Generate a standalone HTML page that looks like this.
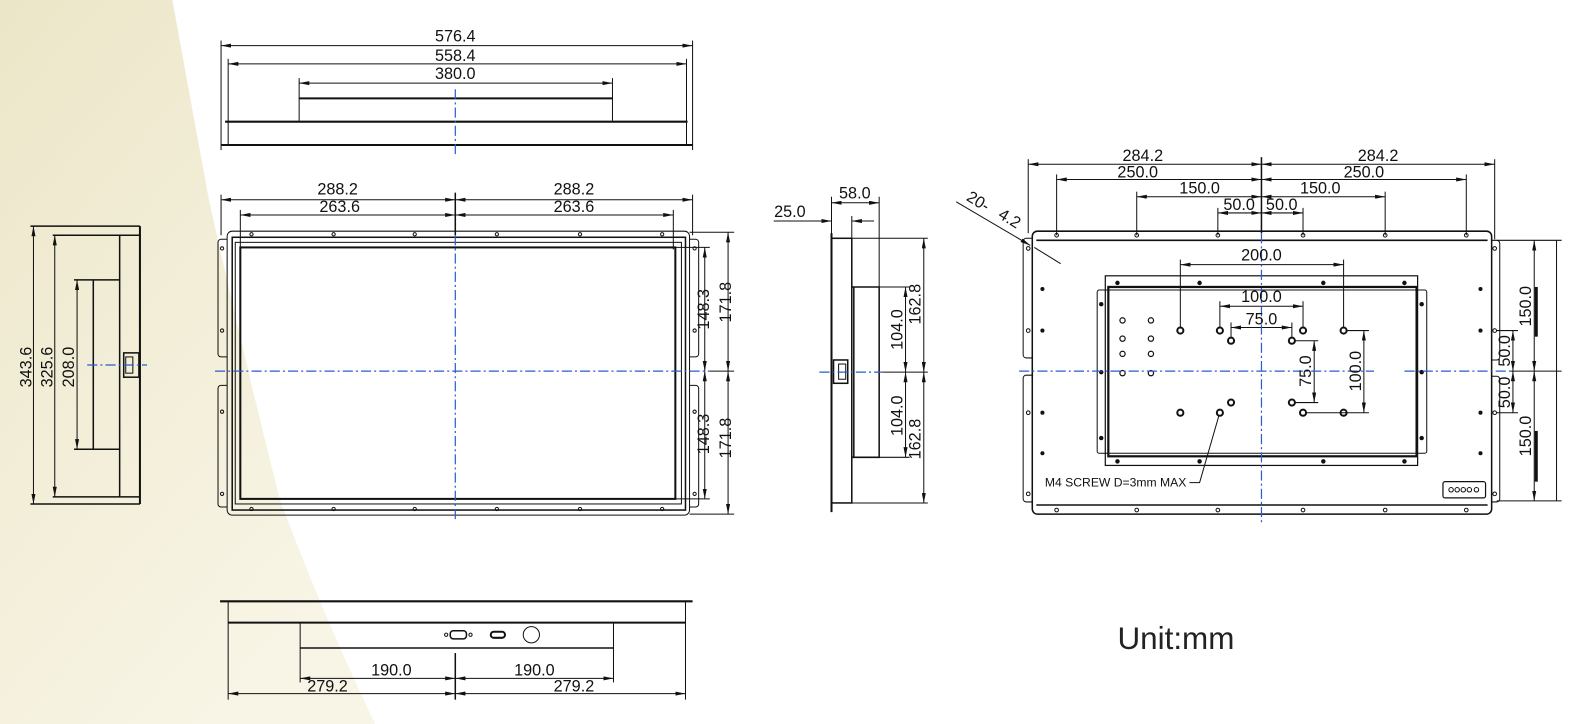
<!DOCTYPE html>
<html><head><meta charset="utf-8"><style>
html,body{margin:0;padding:0;background:#fff;width:1590px;height:724px;overflow:hidden}
svg{display:block}
text{font-family:"Liberation Sans",sans-serif;font-size:16px;fill:#111}
</style></head><body>
<svg width="1590" height="724" viewBox="0 0 1568 714" preserveAspectRatio="none" xmlns="http://www.w3.org/2000/svg">
<defs>
<linearGradient id="bg" x1="0" y1="0" x2="0.6" y2="1">
<stop offset="0" stop-color="#ece6c8"/><stop offset="1" stop-color="#f8f5e6"/></linearGradient>
<marker id="a" viewBox="0 0 10 4" refX="10" refY="2" markerWidth="10" markerHeight="4" orient="auto-start-reverse" markerUnits="userSpaceOnUse"><path d="M0,0L10,2L0,4z" fill="#111"/></marker>
</defs>
<path d="M0,0 L170,0 Q190,110 206,197 Q240,350 276,493 Q320,610 370,714 L0,714z" fill="url(#bg)"/>

<g stroke="#111" fill="none" stroke-width="1">
<!-- TOP VIEW -->
<line x1="218" y1="40" x2="218" y2="148"/><line x1="683" y1="40" x2="683" y2="148"/>
<line x1="225" y1="58" x2="225" y2="143"/><line x1="677" y1="58" x2="677" y2="143"/>
<line x1="295" y1="77" x2="295" y2="119"/><line x1="604" y1="77" x2="604" y2="119"/>
<line x1="218" y1="45" x2="683" y2="45" marker-start="url(#a)" marker-end="url(#a)"/>
<line x1="225" y1="63" x2="677" y2="63" marker-start="url(#a)" marker-end="url(#a)"/>
<line x1="295" y1="82" x2="604" y2="82" marker-start="url(#a)" marker-end="url(#a)"/>
<line x1="295" y1="97" x2="604" y2="97" stroke-width="2"/>
<line x1="222" y1="120" x2="678" y2="120" stroke-width="2"/>
<line x1="218" y1="143" x2="683" y2="143" stroke-width="2"/>

<!-- FRONT VIEW -->
<line x1="218" y1="192" x2="218" y2="232"/><line x1="683" y1="192" x2="683" y2="232"/>
<line x1="237" y1="207" x2="237" y2="246"/><line x1="664" y1="207" x2="664" y2="246"/>
<line x1="449" y1="190" x2="449" y2="232" stroke-width="1.5"/>
<line x1="218" y1="197" x2="449" y2="197" marker-start="url(#a)" marker-end="url(#a)"/>
<line x1="449" y1="197" x2="683" y2="197" marker-start="url(#a)" marker-end="url(#a)"/>
<line x1="237" y1="212" x2="449" y2="212" marker-start="url(#a)" marker-end="url(#a)"/>
<line x1="449" y1="212" x2="664" y2="212" marker-start="url(#a)" marker-end="url(#a)"/>
<rect x="224" y="228" width="456" height="280" rx="5"/>
<path d="M224,236 h-6 a3,3 0 0 0 -3,3 v110 a3,3 0 0 0 3,3 h6"/>
<path d="M224,380 h-6 a3,3 0 0 0 -3,3 v114 a3,3 0 0 0 3,3 h6"/>
<path d="M680,236 h6 a3,3 0 0 1 3,3 v110 a3,3 0 0 1 -3,3 h-6"/>
<path d="M680,380 h6 a3,3 0 0 1 3,3 v114 a3,3 0 0 1 -3,3 h-6"/>
<rect x="229" y="234" width="447" height="269" stroke-width="1.5"/>
<rect x="232" y="239" width="440" height="258"/>
<rect x="237" y="244" width="429" height="248" stroke-width="2"/>
<g stroke-width="1">
<circle cx="248" cy="231" r="1.6"/><circle cx="329" cy="231" r="1.6"/><circle cx="409" cy="231" r="1.6"/><circle cx="490" cy="231" r="1.6"/><circle cx="572" cy="231" r="1.6"/><circle cx="653" cy="231" r="1.6"/>
<circle cx="248" cy="502" r="1.6"/><circle cx="329" cy="502" r="1.6"/><circle cx="409" cy="502" r="1.6"/><circle cx="490" cy="502" r="1.6"/><circle cx="572" cy="502" r="1.6"/><circle cx="653" cy="502" r="1.6"/>
<circle cx="219" cy="245" r="1.6"/><circle cx="219" cy="326" r="1.6"/><circle cx="219" cy="406" r="1.6"/><circle cx="219" cy="487" r="1.6"/>
<circle cx="685" cy="245" r="1.6"/><circle cx="685" cy="326" r="1.6"/><circle cx="685" cy="406" r="1.6"/><circle cx="685" cy="487" r="1.6"/>
</g>
<line x1="666" y1="244" x2="700" y2="244"/><line x1="680" y1="229" x2="724" y2="229"/>
<line x1="666" y1="492" x2="700" y2="492"/><line x1="680" y1="507" x2="724" y2="507"/>
<line x1="700" y1="366" x2="724" y2="366"/>
<line x1="695" y1="244" x2="695" y2="366" marker-start="url(#a)" marker-end="url(#a)"/>
<line x1="695" y1="366" x2="695" y2="492" marker-start="url(#a)" marker-end="url(#a)"/>
<line x1="718" y1="229" x2="718" y2="366" marker-start="url(#a)" marker-end="url(#a)"/>
<line x1="718" y1="366" x2="718" y2="507" marker-start="url(#a)" marker-end="url(#a)"/>

<!-- LEFT SIDE VIEW -->
<line x1="30" y1="223" x2="138" y2="223" stroke-width="1.5"/>
<line x1="30" y1="497" x2="138" y2="497" stroke-width="1.5"/>
<line x1="33" y1="223" x2="33" y2="497" marker-start="url(#a)" marker-end="url(#a)"/>
<line x1="52" y1="232" x2="138" y2="232" stroke-width="1.5"/>
<line x1="52" y1="490" x2="138" y2="490" stroke-width="1.5"/>
<line x1="54" y1="232" x2="54" y2="490" marker-start="url(#a)" marker-end="url(#a)"/>
<line x1="73" y1="276" x2="118" y2="276" stroke-width="1.5"/>
<line x1="73" y1="443" x2="118" y2="443" stroke-width="1.5"/>
<line x1="76" y1="276" x2="76" y2="443" marker-start="url(#a)" marker-end="url(#a)"/>
<line x1="92" y1="276" x2="92" y2="443" stroke-width="1.5"/>
<line x1="118" y1="232" x2="118" y2="490" stroke-width="1.5"/>
<line x1="138" y1="223" x2="138" y2="497" stroke-width="2"/>
<rect x="122" y="348" width="15" height="24" stroke-width="1.5"/>
<rect x="124" y="352" width="7" height="16"/>

<!-- SIDE VIEW -->
<line x1="820" y1="194" x2="820" y2="235"/><line x1="867" y1="194" x2="867" y2="283"/>
<line x1="840" y1="213" x2="840" y2="235"/>
<line x1="820" y1="200" x2="867" y2="200" marker-start="url(#a)" marker-end="url(#a)"/>
<line x1="763" y1="218" x2="820" y2="218" marker-end="url(#a)"/>
<line x1="862" y1="218" x2="840" y2="218" marker-end="url(#a)"/>
<line x1="820" y1="230" x2="820" y2="505" stroke-width="2"/>
<rect x="820" y="235" width="20" height="261" stroke-width="1.5"/>
<path d="M840,283 H867 V451 H840" stroke-width="1.5"/>
<line x1="842" y1="283" x2="842" y2="451" stroke-width="1.5"/>
<rect x="822" y="355" width="14" height="23" stroke-width="1.5"/>
<rect x="827" y="359" width="7" height="15"/>
<line x1="840" y1="235" x2="915" y2="235"/><line x1="840" y1="496" x2="915" y2="496"/>
<line x1="867" y1="283" x2="897" y2="283"/><line x1="867" y1="451" x2="897" y2="451"/>
<line x1="870" y1="367" x2="915" y2="367"/>
<line x1="893" y1="283" x2="893" y2="367" marker-start="url(#a)" marker-end="url(#a)"/>
<line x1="893" y1="367" x2="893" y2="451" marker-start="url(#a)" marker-end="url(#a)"/>
<line x1="911" y1="235" x2="911" y2="367" marker-start="url(#a)" marker-end="url(#a)"/>
<line x1="911" y1="367" x2="911" y2="496" marker-start="url(#a)" marker-end="url(#a)"/>

<!-- BOTTOM VIEW -->
<line x1="217" y1="593" x2="683" y2="593" stroke-width="2"/>
<line x1="225" y1="593" x2="225" y2="690"/><line x1="676" y1="593" x2="676" y2="690"/>
<line x1="225" y1="614" x2="676" y2="614" stroke-width="2"/>
<line x1="296" y1="614" x2="296" y2="673"/><line x1="605" y1="614" x2="605" y2="673"/>
<line x1="296" y1="639" x2="605" y2="639" stroke-width="1.5"/>
<line x1="449" y1="644" x2="449" y2="690" stroke-width="1.5"/>
<line x1="296" y1="669" x2="449" y2="669" marker-start="url(#a)" marker-end="url(#a)"/>
<line x1="449" y1="669" x2="605" y2="669" marker-start="url(#a)" marker-end="url(#a)"/>
<line x1="225" y1="684" x2="449" y2="684" marker-start="url(#a)" marker-end="url(#a)"/>
<line x1="449" y1="684" x2="676" y2="684" marker-start="url(#a)" marker-end="url(#a)"/>
<rect x="444" y="622" width="16" height="8" rx="3" stroke-width="1.5"/>
<circle cx="440" cy="626" r="1.6"/><circle cx="464" cy="626" r="1.6"/>
<rect x="484" y="623" width="14" height="6" rx="3" stroke-width="2"/>
<circle cx="524" cy="626" r="8"/>

<!-- REAR VIEW -->
<line x1="1014" y1="157" x2="1014" y2="230"/><line x1="1474" y1="157" x2="1474" y2="236"/>
<line x1="1042" y1="172" x2="1042" y2="232"/><line x1="1446" y1="172" x2="1446" y2="232"/>
<line x1="1121" y1="189" x2="1121" y2="232"/><line x1="1366" y1="189" x2="1366" y2="232"/>
<line x1="1201" y1="205" x2="1201" y2="232"/><line x1="1285" y1="205" x2="1285" y2="232"/>
<line x1="1244" y1="155" x2="1244" y2="230" stroke-width="1.5"/>
<line x1="1014" y1="162" x2="1244" y2="162" marker-start="url(#a)" marker-end="url(#a)"/>
<line x1="1244" y1="162" x2="1474" y2="162" marker-start="url(#a)" marker-end="url(#a)"/>
<line x1="1042" y1="177" x2="1244" y2="177" marker-start="url(#a)" marker-end="url(#a)"/>
<line x1="1244" y1="177" x2="1446" y2="177" marker-start="url(#a)" marker-end="url(#a)"/>
<line x1="1121" y1="194" x2="1244" y2="194" marker-start="url(#a)" marker-end="url(#a)"/>
<line x1="1244" y1="194" x2="1366" y2="194" marker-start="url(#a)" marker-end="url(#a)"/>
<line x1="1201" y1="210" x2="1244" y2="210" marker-start="url(#a)" marker-end="url(#a)"/>
<line x1="1244" y1="210" x2="1285" y2="210" marker-start="url(#a)" marker-end="url(#a)"/>
<line x1="943" y1="199" x2="1016" y2="242" marker-end="url(#a)"/>
<line x1="1020" y1="244" x2="1046" y2="260"/>
<rect x="1018" y="228" width="453" height="279" rx="5" stroke-width="1.5"/>
<line x1="1022" y1="237" x2="1467" y2="237" stroke-width="1.5"/>
<line x1="1022" y1="498" x2="1467" y2="498" stroke-width="1.5"/>
<path d="M1018,235 h-6 a3,3 0 0 0 -3,3 v112 a3,3 0 0 0 3,3 h6"/>
<path d="M1018,370 h-6 a3,3 0 0 0 -3,3 v119 a3,3 0 0 0 3,3 h6"/>
<path d="M1471,237 h5 a3,3 0 0 1 3,3 v112 a3,3 0 0 1 -3,3 h-5"/>
<path d="M1471,371 h5 a3,3 0 0 1 3,3 v118 a3,3 0 0 1 -3,3 h-5"/>
<g stroke-width="1">
<circle cx="1042" cy="232" r="1.8"/><circle cx="1121" cy="232" r="1.8"/><circle cx="1201" cy="232" r="1.8"/><circle cx="1285" cy="232" r="1.8"/><circle cx="1366" cy="232" r="1.8"/><circle cx="1446" cy="232" r="1.8"/>
<circle cx="1042" cy="503" r="1.8"/><circle cx="1121" cy="503" r="1.8"/><circle cx="1201" cy="503" r="1.8"/><circle cx="1285" cy="503" r="1.8"/><circle cx="1366" cy="503" r="1.8"/><circle cx="1446" cy="503" r="1.8"/>
<circle cx="1474" cy="245" r="1.8"/><circle cx="1474" cy="326" r="1.8"/><circle cx="1474" cy="407" r="1.8"/><circle cx="1474" cy="487" r="1.8"/>
<circle cx="1014" cy="245" r="1.8"/><circle cx="1014" cy="326" r="1.8"/><circle cx="1014" cy="407" r="1.8"/><circle cx="1014" cy="487" r="1.8"/>
</g>
<g fill="#111" stroke="none">
<circle cx="1028" cy="285" r="2"/><circle cx="1028" cy="326" r="2"/><circle cx="1028" cy="407" r="2"/><circle cx="1028" cy="447" r="2"/>
<circle cx="1460" cy="285" r="2"/><circle cx="1460" cy="326" r="2"/><circle cx="1460" cy="407" r="2"/><circle cx="1460" cy="447" r="2"/>
<circle cx="1102" cy="279" r="2.2"/><circle cx="1183" cy="279" r="2.2"/><circle cx="1305" cy="279" r="2.2"/><circle cx="1385" cy="279" r="2.2"/>
<circle cx="1102" cy="455" r="2.2"/><circle cx="1183" cy="455" r="2.2"/><circle cx="1305" cy="455" r="2.2"/><circle cx="1385" cy="455" r="2.2"/>
<circle cx="1086" cy="300" r="2.2"/><circle cx="1086" cy="367" r="2.2"/><circle cx="1086" cy="432" r="2.2"/>
<circle cx="1402" cy="300" r="2.2"/><circle cx="1402" cy="367" r="2.2"/><circle cx="1402" cy="432" r="2.2"/>
</g>
<rect x="1090" y="272" width="308" height="187" stroke-width="1.2"/>
<rect x="1082" y="286" width="325" height="161" rx="2"/>
<rect x="1093" y="283" width="304" height="167" stroke-width="2.2"/>
<g stroke-width="1.2">
<circle cx="1107" cy="316" r="2.6"/><circle cx="1107" cy="334" r="2.6"/><circle cx="1107" cy="349" r="2.6"/><circle cx="1107" cy="368" r="2.6"/>
<circle cx="1135" cy="316" r="2.6"/><circle cx="1135" cy="334" r="2.6"/><circle cx="1135" cy="349" r="2.6"/><circle cx="1135" cy="368" r="2.6"/>
</g>
<g stroke-width="2">
<circle cx="1164" cy="326" r="3"/><circle cx="1203" cy="326" r="3"/><circle cx="1285" cy="326" r="3"/><circle cx="1325" cy="326" r="3"/>
<circle cx="1214" cy="336" r="3"/><circle cx="1274" cy="336" r="3"/><circle cx="1214" cy="397" r="3"/><circle cx="1274" cy="397" r="3"/>
<circle cx="1164" cy="407" r="3"/><circle cx="1203" cy="407" r="3"/><circle cx="1285" cy="407" r="3"/><circle cx="1325" cy="407" r="3"/>
</g>
<line x1="1164" y1="256" x2="1164" y2="323"/><line x1="1325" y1="256" x2="1325" y2="323"/>
<line x1="1164" y1="261" x2="1325" y2="261" marker-start="url(#a)" marker-end="url(#a)"/>
<line x1="1203" y1="297" x2="1203" y2="323"/><line x1="1285" y1="297" x2="1285" y2="323"/>
<line x1="1203" y1="302" x2="1285" y2="302" marker-start="url(#a)" marker-end="url(#a)"/>
<line x1="1214" y1="318" x2="1214" y2="333"/><line x1="1274" y1="318" x2="1274" y2="333"/>
<line x1="1214" y1="323" x2="1274" y2="323" marker-start="url(#a)" marker-end="url(#a)"/>
<line x1="1277" y1="336" x2="1300" y2="336"/><line x1="1277" y1="397" x2="1300" y2="397"/>
<line x1="1296" y1="336" x2="1296" y2="397" marker-start="url(#a)" marker-end="url(#a)"/>
<line x1="1328" y1="326" x2="1350" y2="326"/><line x1="1288" y1="407" x2="1350" y2="407"/>
<line x1="1345" y1="326" x2="1345" y2="407" marker-start="url(#a)" marker-end="url(#a)"/>
<polyline points="1202,410 1183,476 1173,476"/>
<line x1="1476" y1="237" x2="1540" y2="237"/><line x1="1476" y1="494" x2="1540" y2="494"/>
<line x1="1476" y1="326" x2="1497" y2="326"/><line x1="1476" y1="407" x2="1497" y2="407"/>
<line x1="1490" y1="366" x2="1540" y2="366"/>
<line x1="1513" y1="237" x2="1513" y2="366" marker-start="url(#a)" marker-end="url(#a)"/>
<line x1="1513" y1="366" x2="1513" y2="494" marker-start="url(#a)" marker-end="url(#a)"/>
<line x1="1492" y1="326" x2="1492" y2="366" marker-start="url(#a)" marker-end="url(#a)"/>
<line x1="1492" y1="366" x2="1492" y2="407" marker-start="url(#a)" marker-end="url(#a)"/>
<line x1="1535" y1="237" x2="1535" y2="494"/>
<line x1="1515" y1="283" x2="1515" y2="332" stroke-width="3"/>
<line x1="1515" y1="425" x2="1515" y2="475" stroke-width="3"/>
<rect x="1423" y="475" width="42" height="16" rx="2" stroke-width="1.2"/>
<circle cx="1431" cy="483" r="2.2"/><circle cx="1437" cy="483" r="2.2"/><circle cx="1443" cy="483" r="2.2"/><circle cx="1449" cy="483" r="2.2"/><circle cx="1456" cy="483" r="2.2"/>
</g>

<!-- Blue centre lines -->
<g stroke="#2a5bd0" stroke-width="1.2" stroke-dasharray="10 3 2 3" fill="none">
<line x1="449" y1="88" x2="449" y2="152"/>
<line x1="449" y1="232" x2="449" y2="512"/>
<line x1="212" y1="366" x2="700" y2="366"/>
<line x1="86" y1="360" x2="145" y2="360"/>
<line x1="808" y1="367" x2="870" y2="367"/>
<line x1="1244" y1="230" x2="1244" y2="515"/>
<line x1="1005" y1="366" x2="1355" y2="366"/>
<line x1="1385" y1="366" x2="1490" y2="366"/>
</g>

<!-- Labels -->
<g text-anchor="middle">
<text x="449" y="41">576.4</text><text x="449" y="60">558.4</text><text x="449" y="78">380.0</text>
<text x="333" y="192">288.2</text><text x="566" y="192">288.2</text>
<text x="335" y="209">263.6</text><text x="566" y="209">263.6</text>
<text transform="translate(699,305) rotate(-90)">148.3</text>
<text transform="translate(721,298) rotate(-90)">171.8</text>
<text transform="translate(699,428) rotate(-90)">148.3</text>
<text transform="translate(721,432) rotate(-90)">171.8</text>
<text transform="translate(31,362) rotate(-90)">343.6</text>
<text transform="translate(52,362) rotate(-90)">325.6</text>
<text transform="translate(73,362) rotate(-90)">208.0</text>
<text x="843" y="196">58.0</text><text x="779" y="214">25.0</text>
<text transform="translate(890,325) rotate(-90)">104.0</text>
<text transform="translate(908,300) rotate(-90)">162.8</text>
<text transform="translate(890,410) rotate(-90)">104.0</text>
<text transform="translate(908,433) rotate(-90)">162.8</text>
<text x="386" y="666">190.0</text><text x="527" y="666">190.0</text>
<text x="323" y="682">279.2</text><text x="566" y="682">279.2</text>
<text x="1127" y="159">284.2</text><text x="1359" y="159">284.2</text>
<text x="1122" y="175">250.0</text><text x="1345" y="175">250.0</text>
<text x="1183" y="191">150.0</text><text x="1302" y="191">150.0</text>
<text x="1222" y="207">50.0</text><text x="1264" y="207">50.0</text>
<text x="1244" y="257">200.0</text><text x="1244" y="298">100.0</text><text x="1244" y="320">75.0</text>
<text transform="translate(1293,366) rotate(-90)">75.0</text>
<text transform="translate(1342,366) rotate(-90)">100.0</text>
<text transform="translate(1510,302) rotate(-90)">150.0</text>
<text transform="translate(1510,430) rotate(-90)">150.0</text>
<text transform="translate(1489,346) rotate(-90)">50.0</text>
<text transform="translate(1489,387) rotate(-90)">50.0</text>
<text transform="translate(962,203) rotate(31)">20-</text>
<text transform="translate(993,220) rotate(31)">4.2</text>
</g>
<text x="1170" y="480" text-anchor="end" style="font-size:12px">M4 SCREW D=3mm MAX</text>
<text x="1102" y="640" style="font-size:31px;fill:#222">Unit:mm</text>
</svg>
</body></html>
